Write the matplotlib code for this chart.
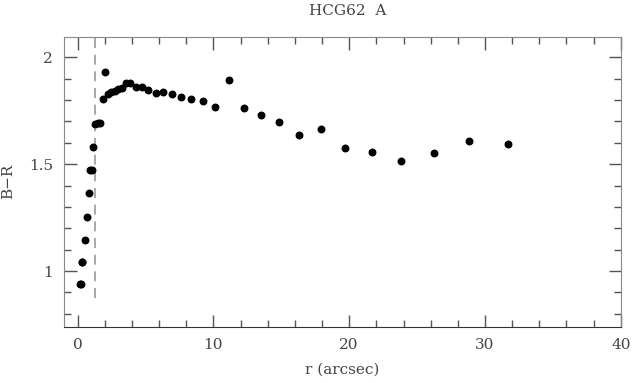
import numpy as np
import matplotlib
matplotlib.use("Agg")
import matplotlib.pyplot as plt
from matplotlib.ticker import MultipleLocator

# radius (arcsec) and B-R colour
r = [0.15, 0.22, 0.30, 0.35, 0.54, 0.69, 0.84, 0.95, 1.05, 1.15,
     1.30, 1.47, 1.67, 1.84, 2.04, 2.23, 2.48, 2.72, 2.97, 3.24,
     3.56, 3.88, 4.29, 4.78, 5.22, 5.74, 6.30, 6.94, 7.63, 8.38,
     9.22, 10.15, 11.13, 12.26, 13.49, 14.81, 16.30, 17.90, 19.71, 21.65,
     23.82, 26.21, 28.82, 31.69]
bmr = [0.938, 0.938, 1.042, 1.042, 1.146, 1.254, 1.364, 1.471, 1.471, 1.579,
       1.690, 1.692, 1.695, 1.805, 1.933, 1.827, 1.836, 1.844, 1.850, 1.855,
       1.881, 1.881, 1.862, 1.862, 1.848, 1.834, 1.839, 1.827, 1.816, 1.803,
       1.794, 1.766, 1.895, 1.761, 1.729, 1.696, 1.636, 1.663, 1.577, 1.557,
       1.513, 1.552, 1.608, 1.596]

r_seeing = 1.3

plt.rcParams['font.family'] = ['DejaVu Serif']

fig = plt.figure(figsize=(6.36, 3.83), dpi=100)
ax = fig.add_axes([0.1006, 0.147, 0.8755, 0.757])

ax.scatter(r, bmr, s=22, color='black', zorder=3)
ax.plot([r_seeing, r_seeing], [0.875, 2.1], ls=(0, (6, 4)), color='#999999', lw=1.2)

ax.set_xlim(-1, 40)
ax.set_ylim(0.74, 2.096)
ax.xaxis.set_major_locator(MultipleLocator(10))
ax.xaxis.set_minor_locator(MultipleLocator(2))
ax.yaxis.set_major_locator(MultipleLocator(0.5))
ax.yaxis.set_minor_locator(MultipleLocator(0.1))
ax.yaxis.set_major_formatter(plt.FuncFormatter(lambda v, p: '%g' % v))
ax.tick_params(which='both', direction='in', top=True, right=True,
               labelsize=11, colors='#555555', labelcolor='#444444')
ax.tick_params(which='major', length=9, width=1)
ax.tick_params(which='minor', length=5, width=1)
ax.tick_params(axis='y', pad=8)
ax.tick_params(axis='x', pad=8)
for s in ['left', 'right', 'top']:
    ax.spines[s].set_color('#888888')
ax.spines['bottom'].set_color('#333333')

ax.set_xlabel('r (arcsec)', fontsize=11, color='#444444', labelpad=8)
ax.set_ylabel('B\u2212R', fontsize=11, color='#444444', labelpad=10)
ax.set_title('HCG62  A', fontsize=11, color='#444444', pad=16, x=0.51)

fig.savefig('out.png', dpi=100)
